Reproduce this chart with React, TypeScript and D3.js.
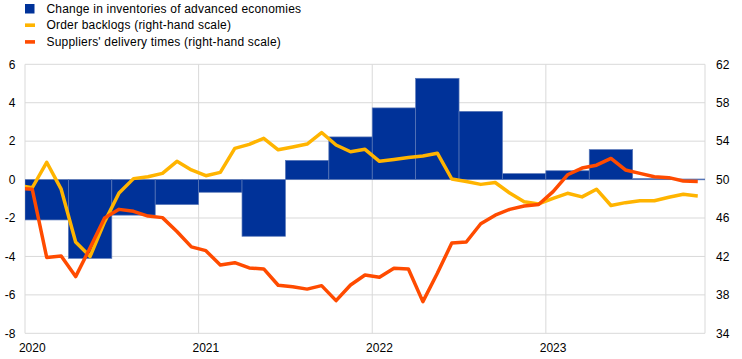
import React from "react";
import * as d3 from "d3";

// Quarterly change in inventories (left scale), Q1 2020 .. Q4 2023
const quarterStarts = [0, 3, 6, 9, 12, 15, 18, 21, 24, 27, 30, 33, 36, 39, 42, 45];
const inventories = [-2.1, -4.1, -1.85, -1.3, -0.66, -2.95, 1.0, 2.22, 3.73, 5.27, 3.55, 0.31, 0.46, 1.56, 0.05, 0.03];

// Monthly series (right scale), Dec 2019 .. Nov 2023 (month index -1 .. 46)
const monthIdx = d3.range(-1, 47);
const orderBacklogs = [
  49.4, 49.15, 51.8, 49.0, 43.5, 42.0, 45.6, 48.6, 50.1, 50.3, 50.65, 51.9, 51.0,
  50.4, 50.75, 53.25, 53.67, 54.3, 53.1, 53.4, 53.7, 54.9, 53.6, 52.9, 53.15,
  51.9, 52.1, 52.3, 52.45, 52.75, 50.06, 49.8, 49.5, 49.7, 48.6, 47.7, 47.46,
  48.05, 48.57, 48.2, 49.0, 47.3, 47.6, 47.8, 47.8, 48.16, 48.47, 48.3,
];
const deliveryTimes = [
  49.1, 49.0, 41.9, 42.05, 39.9, 42.9, 46.0, 46.9, 46.7, 46.2, 46.04, 44.6, 43.0,
  42.6, 41.1, 41.35, 40.8, 40.7, 39.0, 38.85, 38.6, 38.96, 37.4, 39.03, 40.07,
  39.83, 40.77, 40.7, 37.3, 40.25, 43.4, 43.5, 45.4, 46.3, 46.9, 47.25, 47.4,
  48.75, 50.5, 51.2, 51.5, 52.2, 51.0, 50.65, 50.3, 50.2, 49.85, 49.8,
];

const leftTicks = [6, 4, 2, 0, -2, -4, -6, -8];
const rightTicks = [62, 58, 54, 50, 46, 42, 38, 34];
const yearLabels = ["2020", "2021", "2022", "2023"];
const yearStarts = [0, 12, 24, 36];

const legendItems = [
  { label: "Change in inventories of advanced economies", color: "#003299", kind: "square" },
  { label: "Order backlogs (right-hand scale)", color: "#FFB400", kind: "line" },
  { label: "Suppliers' delivery times (right-hand scale)", color: "#FF4B00", kind: "line" },
];

const W = 742;
const H = 359;
const L = 25;
const R = 705;
const T = 64.3;
const B = 333.3;
const FONT = "Arial, 'Liberation Sans', sans-serif";

export default function App() {
  const x = d3.scaleLinear().domain([0, 47]).range([L, R]);
  const yL = d3.scaleLinear().domain([-8, 6]).range([B, T]);
  const yR = d3.scaleLinear().domain([34, 62]).range([B, T]);

  const lineGen = d3
    .line<number>()
    .x((_, i) => x(monthIdx[i] + 0.5))
    .y((d) => yR(d));

  const grid = "#d9d9d9";

  return (
    <svg
      width={W}
      height={H}
      style={{ position: "absolute", left: 0, top: 0, background: "#fff" }}
      fontFamily={FONT}
    >
      <defs>
        <clipPath id="plot">
          <rect x={L} y={T - 5} width={R - L} height={B - T + 10} />
        </clipPath>
      </defs>

      {/* horizontal grid */}
      {leftTicks.map((t) => (
        <line key={"h" + t} x1={L} x2={R} y1={yL(t)} y2={yL(t)} stroke={grid} strokeWidth={1} />
      ))}
      {/* vertical grid at year starts and frame */}
      {[...yearStarts, 47].map((m) => (
        <line key={"v" + m} x1={x(m)} x2={x(m)} y1={T} y2={B} stroke={grid} strokeWidth={1} />
      ))}

      <g clipPath="url(#plot)">
        {inventories.map((v, i) => {
          const x0 = x(quarterStarts[i]);
          const x1 = x(quarterStarts[i] + 3);
          const y0 = yL(Math.max(0, v));
          const y1 = yL(Math.min(0, v));
          return (
            <rect
              key={"b" + i}
              x={x0}
              y={y0}
              width={x1 - x0}
              height={Math.max(0.8, y1 - y0)}
              fill="#003299"
              stroke="#5a78b8"
              strokeWidth={0.7}
            />
          );
        })}
        <path d={lineGen(orderBacklogs) || ""} fill="none" stroke="#FFB400" strokeWidth={3.5} strokeLinejoin="round" />
        <path d={lineGen(deliveryTimes) || ""} fill="none" stroke="#FF4B00" strokeWidth={3.5} strokeLinejoin="round" />
      </g>

      {/* left axis labels */}
      {leftTicks.map((t) => (
        <text key={"lt" + t} x={15.5} y={yL(t)} dy="0.35em" textAnchor="end" fontSize={12} fill="#000">
          {t}
        </text>
      ))}
      {/* right axis labels */}
      {rightTicks.map((t) => (
        <text key={"rt" + t} x={716} y={yR(t)} dy="0.35em" textAnchor="start" fontSize={12} fill="#000">
          {t}
        </text>
      ))}
      {/* x labels */}
      {yearLabels.map((lab, i) => (
        <text key={lab} x={x(yearStarts[i] + 0.5)} y={352} textAnchor="middle" fontSize={12} fill="#000">
          {lab}
        </text>
      ))}

      {/* legend */}
      {legendItems.map((it, i) => {
        const cy = 8.5 + i * 16.7;
        return (
          <g key={it.label}>
            {it.kind === "square" ? (
              <rect x={25} y={cy - 4.5} width={9.5} height={9.5} fill={it.color} />
            ) : (
              <rect x={25} y={cy - 1.8} width={10} height={3.6} fill={it.color} />
            )}
            <text x={46.5} y={cy} dy="0.35em" fontSize={12} letterSpacing={0.2} fill="#000">
              {it.label}
            </text>
          </g>
        );
      })}
    </svg>
  );
}
